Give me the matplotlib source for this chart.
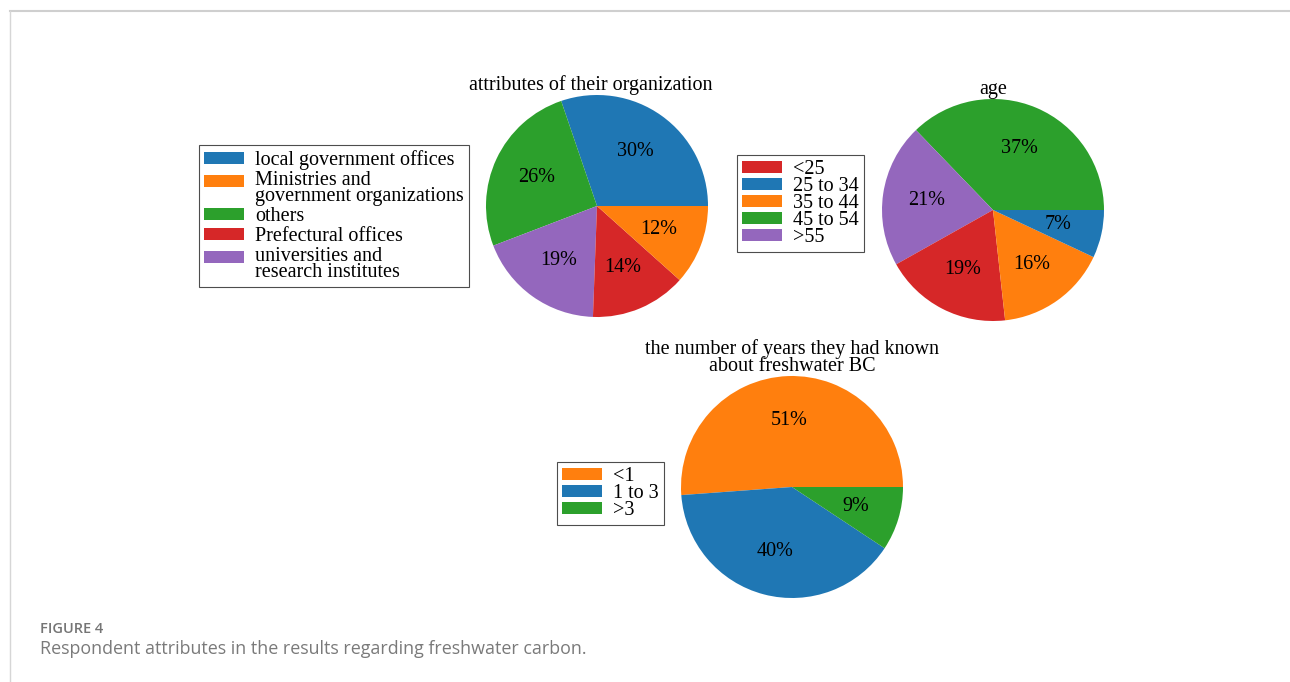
import matplotlib
matplotlib.use('Agg')
import matplotlib.pyplot as plt
from matplotlib.lines import Line2D
from matplotlib.patches import Rectangle
from matplotlib.legend_handler import HandlerPatch

plt.rcParams['font.family'] = ['Liberation Serif', 'DejaVu Serif']

W, H = 1290, 682

# Data (respondent counts, legend order)
org_labels = ['local government offices', 'Ministries and\ngovernment organizations',
              'others', 'Prefectural offices', 'universities and\nresearch institutes']
org_counts = [13, 5, 11, 6, 8]
org_colors = ['#1f77b4', '#ff7f0e', '#2ca02c', '#d62728', '#9467bd']

age_labels = ['<25', '25 to 34', '35 to 44', '45 to 54', '>55']
age_counts = [8, 3, 7, 16, 9]
age_colors = ['#d62728', '#1f77b4', '#ff7f0e', '#2ca02c', '#9467bd']

year_labels = ['<1', '1 to 3', '>3']
year_counts = [22, 17, 4]
year_colors = ['#ff7f0e', '#1f77b4', '#2ca02c']

FS = 14.5

fig = plt.figure(figsize=(W / 100, H / 100), dpi=100)


def pie_axes(cx, cy, r):
    # axes placed in pixel terms of the final image
    return fig.add_axes([(cx - r) / W, (H - cy - r) / H, 2 * r / W, 2 * r / H])


def first_line_patch(legend, orig_handle, xdescent, ydescent, width, height, fontsize):
    # legend key lined up with the first line of a two-line label
    return Rectangle((-xdescent, -ydescent + 0.36 * fontsize), width, height)


def draw_pie(ax, title, labels, counts, colors, legend_xy, title_x=0.5,
             title_pad=0.0, spacing=-0.1):
    # slices drawn largest first, legend kept in category order
    order = sorted(range(len(counts)), key=lambda i: -counts[i])
    wedges, _, autotexts = ax.pie([counts[i] for i in order],
                                  colors=[colors[i] for i in order],
                                  autopct='%1.0f%%', startangle=0,
                                  textprops={'fontsize': FS})
    ax.set_xlim(-1, 1)
    ax.set_ylim(-1, 1)
    ax.set_aspect('equal')
    t = ax.set_title(title, fontsize=FS, pad=title_pad, x=title_x)
    t.set_linespacing(0.85)
    handles = [wedges[order.index(i)] for i in range(len(labels))]
    hmap = {h: HandlerPatch(patch_func=first_line_patch)
            for h, lab in zip(handles, labels) if '\n' in lab}
    leg = fig.legend(handles, labels, loc='upper left', handler_map=hmap,
                     bbox_to_anchor=(legend_xy[0] / W, 1 - legend_xy[1] / H),
                     bbox_transform=fig.transFigure, borderaxespad=0,
                     fontsize=FS, fancybox=False, framealpha=1,
                     edgecolor='0.3', labelspacing=spacing, handlelength=2.0,
                     handleheight=0.55, handletextpad=0.55, borderpad=0.25)
    leg.get_frame().set_linewidth(0.8)
    for txt in leg.get_texts():
        txt.set_linespacing(0.8)
    return leg


ax1 = pie_axes(597, 206, 111)
draw_pie(ax1, 'attributes of their organization', org_labels, org_counts,
         org_colors, (199, 145), title_x=0.47, title_pad=-1.0, spacing=0.05)

ax2 = pie_axes(993, 210, 111)
draw_pie(ax2, 'age', age_labels, age_counts, age_colors, (737, 155),
         title_pad=2.2)

ax3 = pie_axes(792, 487, 111)
draw_pie(ax3, 'the number of years they had known\nabout freshwater BC',
         year_labels, year_counts, year_colors, (557, 462), title_pad=-1.0)

# page frame and caption
fig.add_artist(Line2D([9.5 / W, 1], [1 - 11 / H, 1 - 11 / H], color='#cfcfcf',
                      lw=1.5, transform=fig.transFigure))
fig.add_artist(Line2D([9.5 / W, 9.5 / W], [0, 1 - 11 / H], color='#d6d6d6',
                      lw=1, transform=fig.transFigure))
fig.text(40 / W, 1 - 633 / H, 'FIGURE 4', family='Open Sans', fontsize=10.5,
         fontweight='semibold', color='#757575', va='baseline')
fig.text(40 / W, 1 - 654 / H,
         'Respondent attributes in the results regarding freshwater carbon.',
         family='Open Sans', fontsize=12.9, color='#7a7a7a', va='baseline')

fig.savefig('out.png', dpi=100)
